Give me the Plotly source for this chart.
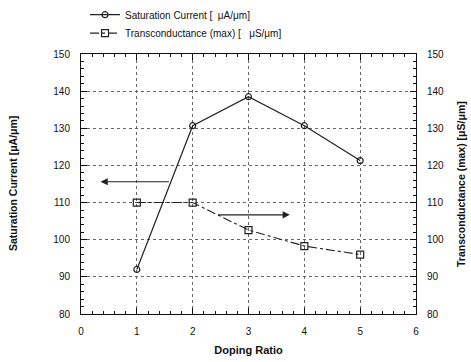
import plotly.graph_objects as go

doping_ratio = [1, 2, 3, 4, 5]
saturation_current = [92, 130.7, 138.5, 130.7, 121.3]
transconductance = [110, 110, 102.6, 98.3, 96.0]

x_ticks = [0, 1, 2, 3, 4, 5, 6]
y_ticks = [80, 90, 100, 110, 120, 130, 140, 150]

FONT = "Liberation Sans, Arial, sans-serif"

W, H = 471, 362
L, T, PW, PH = 81, 54, 335, 260

fig = go.Figure()
fig.add_trace(go.Scatter(
    x=doping_ratio, y=saturation_current, mode="lines+markers",
    name="Saturation Current [  μA/μm]",
    line=dict(color="#222", width=1.2),
    marker=dict(symbol="circle-open", size=6, color="#222", line=dict(width=1.2)),
    yaxis="y", legend="legend",
))
fig.add_trace(go.Scatter(
    x=doping_ratio, y=transconductance, mode="lines+markers",
    name="Transconductance (max) [   μS/μm]",
    line=dict(color="#222", width=1.1, dash="dashdot"),
    marker=dict(symbol="square-open", size=7, color="#222", line=dict(width=1.2)),
    yaxis="y2", legend="legend2",
))

axis_common = dict(
    showline=True, linecolor="#111", linewidth=1,
    ticks="inside", ticklen=6, tickcolor="#111",
    showgrid=True, gridcolor="#666", griddash="dot", gridwidth=1,
    zeroline=False, automargin=False,
    tickfont=dict(family=FONT, size=10, color="#111"),
)

legend_common = dict(xanchor="left", yanchor="top", bgcolor="rgba(0,0,0,0)",
                     font=dict(size=10, family=FONT, color="#111"), itemwidth=30)

fig.update_layout(
    width=W, height=H,
    margin=dict(l=L, r=W - L - PW, t=T, b=H - T - PH, autoexpand=False),
    paper_bgcolor="white", plot_bgcolor="white",
    font=dict(family=FONT, size=10, color="#111"),
    showlegend=True,
    legend=dict(x=0.012, y=1.207, **legend_common),
    legend2=dict(x=0.012, y=1.136, **legend_common),
    xaxis=dict(range=[0, 6], tickvals=x_ticks, mirror="ticks",
               minor=dict(dtick=0.2, ticklen=3, ticks="inside", tickcolor="#111", showgrid=False),
               title=dict(text="<b>Doping Ratio</b>", font=dict(size=11, family=FONT), standoff=10),
               ticklabelstandoff=8,
               **axis_common),
    yaxis=dict(range=[80, 150], tickvals=y_ticks,
               minor=dict(dtick=2, ticklen=3, ticks="inside", tickcolor="#111", showgrid=False),
               ticklabelstandoff=8,
               **axis_common),
    yaxis2=dict(range=[80, 150], tickvals=y_ticks, overlaying="y", side="right",
                showline=True, linecolor="#111", linewidth=1, automargin=False,
                ticks="inside", ticklen=6, tickcolor="#111", showgrid=False, zeroline=False,
                minor=dict(dtick=2, ticklen=3, ticks="inside", tickcolor="#111"),
                tickfont=dict(family=FONT, size=10, color="#111"),
                ticklabelstandoff=8),
)

# Axis titles as rotated annotations
fig.add_annotation(x=(13 - L) / PW, y=0.5, xref="paper", yref="paper", xanchor="center", yanchor="middle",
                   text="<b>Saturation Current [μA/μm]</b>", textangle=-90, showarrow=False,
                   font=dict(size=10.5, family=FONT, color="#111"))
fig.add_annotation(x=(461 - L) / PW, y=0.5, xref="paper", yref="paper", xanchor="center", yanchor="middle",
                   text="<b>Transconductance (max) [μS/μm]</b>", textangle=-90, showarrow=False,
                   font=dict(size=10.5, family=FONT, color="#111"))

# Arrows indicating which axis each curve belongs to
fig.add_annotation(x=0.35, y=115.6, ax=1.6, ay=115.6, xref="x", yref="y", axref="x", ayref="y",
                   text="", showarrow=True, arrowhead=2, arrowsize=1.2, arrowwidth=1.2, arrowcolor="#222")
fig.add_annotation(x=3.74, y=106.7, ax=2.43, ay=106.7, xref="x", yref="y", axref="x", ayref="y",
                   text="", showarrow=True, arrowhead=2, arrowsize=1.2, arrowwidth=1.2, arrowcolor="#222")

fig.write_html(
    "out.html",
    config={"displayModeBar": False},
    post_script="document.body.style.margin='0';document.body.style.overflow='hidden';",
)
